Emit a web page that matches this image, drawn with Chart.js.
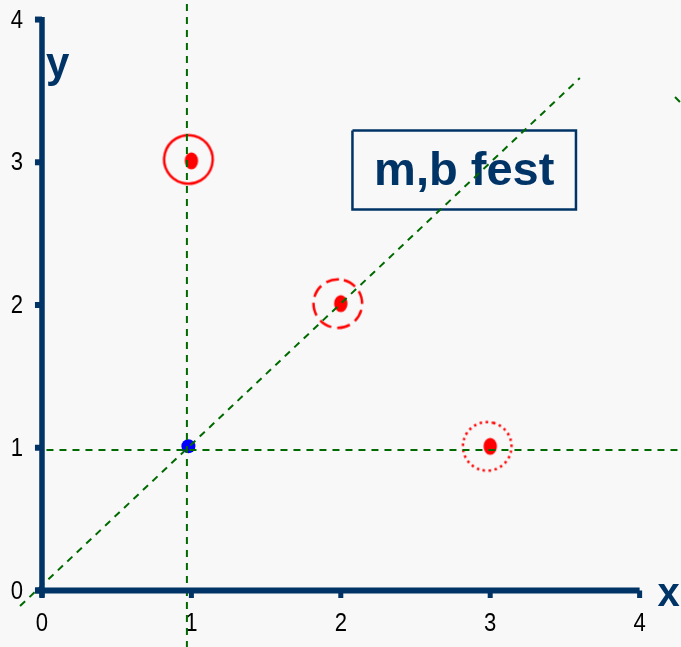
<!DOCTYPE html>
<html>
<head>
<meta charset="utf-8">
<script src="https://cdn.jsdelivr.net/npm/chart.js@4/dist/chart.umd.min.js"></script>
<style>
  html, body { margin: 0; padding: 0; background: #f8f8f8; }
  #wrap { width: 681px; height: 647px; position: relative; }
</style>
</head>
<body>
<div id="wrap"><canvas id="c"></canvas></div>
<script>
// ---- data ----
const xTicks = [0, 1, 2, 3, 4];
const yTicks = [0, 1, 2, 3, 4];
const tickLabels = ['0', '1', '2', '3', '4'];
const redPoints = [{x: 1.00, y: 3.01}, {x: 2.00, y: 2.01}, {x: 3.00, y: 1.01}];
const bluePoint = [{x: 0.98, y: 1.01}];
const ringSolid = [{x: 0.98, y: 3.02}];
const ringDashed = [{x: 1.98, y: 2.01}];
const ringDotted = [{x: 2.98, y: 1.01}];
const verticalLine = [{x: 0.97, y: 4.2}, {x: 0.97, y: -0.45}];
const horizontalLine = [{x: 0.03, y: 0.984}, {x: 4.35, y: 0.984}];
const diagonalLine = [{x: -0.147, y: -0.109}, {x: 3.60, y: 3.59}];
const stubLine = [{x: 4.237, y: 3.457}, {x: 4.30, y: 3.39}];
const yAxisLine = [{x: 0, y: 4.018}, {x: 0, y: -0.05}];
const xAxisLine = [{x: -0.045, y: 0}, {x: 4, y: 0}];
const boxCorners = [{x: 2.078, y: 3.222}, {x: 3.574, y: 2.669}];
const boxText = 'm,b fest';
const xTitle = 'x';
const yTitle = 'y';

// ---- styles ----
const NAVY = '#003366';
const GREEN = '#006a00';
const FONT = '"Liberation Sans", Arial, sans-serif';

function ringImage(dash) {
  const cv = document.createElement('canvas');
  cv.width = 60; cv.height = 60;
  const g = cv.getContext('2d');
  g.strokeStyle = '#ff0000';
  g.lineWidth = 2.5;
  g.setLineDash(dash);
  g.beginPath();
  g.arc(30, 30, 24.3, -Math.PI / 2 + 0.25, Math.PI * 1.5 + 0.25);
  g.stroke();
  return cv;
}
function ellipseImage(rx, ry, color) {
  const cv = document.createElement('canvas');
  cv.width = Math.ceil(rx * 2 + 2); cv.height = Math.ceil(ry * 2 + 2);
  const g = cv.getContext('2d');
  g.fillStyle = color;
  g.beginPath();
  g.ellipse(cv.width / 2, cv.height / 2, rx, ry, 0, 0, Math.PI * 2);
  g.fill();
  return cv;
}

const dashedLine = (data) => ({
  data, showLine: true, borderColor: GREEN, borderWidth: 2, borderDash: [7, 6],
  pointRadius: 0, fill: false, order: 1
});
const navyLine = (data, w) => ({
  data, showLine: true, borderColor: NAVY, borderWidth: w, borderCapStyle: 'butt',
  pointRadius: 0, fill: false, order: 0
});

const datasets = [];
// axes (on top)
datasets.push(navyLine(yAxisLine, 5.5));
datasets.push(navyLine(xAxisLine, 6));
xTicks.forEach(t => datasets.push(navyLine([{x: t, y: 0}, {x: t, y: -0.052}], 5)));
yTicks.forEach(t => datasets.push(navyLine([{x: 0, y: t}, {x: -0.047, y: t}], 6)));
// green dashed lines
datasets.push(dashedLine(verticalLine));
datasets.push(dashedLine(horizontalLine));
datasets.push(dashedLine(diagonalLine));
datasets.push(dashedLine(stubLine));
// label box
datasets.push({
  data: [
    {x: boxCorners[0].x, y: boxCorners[0].y}, {x: boxCorners[1].x, y: boxCorners[0].y},
    {x: boxCorners[1].x, y: boxCorners[1].y}, {x: boxCorners[0].x, y: boxCorners[1].y},
    {x: boxCorners[0].x, y: boxCorners[0].y}
  ],
  showLine: true, borderColor: NAVY, borderWidth: 2.5, pointRadius: 0, fill: false,
  borderJoinStyle: 'miter', order: 3
});
// points
const redDot = ellipseImage(6.7, 8.6, '#ff0000');
datasets.push({ data: redPoints, pointStyle: redDot, pointRadius: 8, order: 2 });
datasets.push({ data: bluePoint, pointStyle: 'circle', pointRadius: 7,
  backgroundColor: '#0000ff', borderColor: '#0000ff', borderWidth: 0, order: 2 });
datasets.push({ data: ringSolid, pointStyle: ringImage([]), pointRadius: 25, order: 2 });
datasets.push({ data: ringDashed, pointStyle: ringImage([13, 6.1]), pointRadius: 25, order: 2 });
datasets.push({ data: ringDotted, pointStyle: ringImage([2.4, 3.6]), pointRadius: 25, order: 2 });

const textPlugin = {
  id: 'texts',
  beforeDraw(chart) {
    const ctx = chart.ctx;
    ctx.save();
    ctx.fillStyle = '#f8f8f8';
    ctx.fillRect(0, 0, chart.width, chart.height);
    ctx.restore();
  },
  beforeDatasetsDraw(chart) {
    const ctx = chart.ctx, xs = chart.scales.x, ys = chart.scales.y;
    const x0 = xs.getPixelForValue(0), y0 = ys.getPixelForValue(0);
    ctx.save();
    // tick labels
    ctx.fillStyle = '#000000';
    ctx.font = '26px ' + FONT;
    ctx.textAlign = 'center';
    ctx.textBaseline = 'middle';
    xTicks.forEach((t, i) => {
      ctx.save();
      ctx.translate(xs.getPixelForValue(t), y0 + 33);
      ctx.scale(0.85, 1);
      ctx.fillText(tickLabels[i], 0, 0);
      ctx.restore();
    });
    yTicks.forEach((t, i) => {
      ctx.save();
      ctx.translate(x0 - 25, ys.getPixelForValue(t) + 1);
      ctx.scale(0.85, 1);
      ctx.fillText(tickLabels[i], 0, 0);
      ctx.restore();
    });
    // axis titles
    ctx.fillStyle = NAVY;
    ctx.font = 'bold 42px ' + FONT;
    ctx.textAlign = 'left';
    ctx.textBaseline = 'alphabetic';
    ctx.fillText(yTitle, x0 + 4, ys.getPixelForValue(3.6));
    ctx.font = 'bold 40px ' + FONT;
    ctx.fillText(xTitle, xs.getPixelForValue(4.12), y0 + 16);
    // box text
    ctx.font = 'bold 47px ' + FONT;
    ctx.textAlign = 'center';
    const cx = (xs.getPixelForValue(boxCorners[0].x) + xs.getPixelForValue(boxCorners[1].x)) / 2;
    ctx.fillText(boxText, cx, ys.getPixelForValue(2.841));
    ctx.restore();
  }
};

new Chart(document.getElementById('c'), {
  type: 'scatter',
  data: { datasets },
  options: {
    responsive: true,
    maintainAspectRatio: false,
    animation: false,
    events: [],
    layout: { padding: 0, autoPadding: false },
    plugins: { legend: { display: false }, tooltip: { enabled: false } },
    scales: {
      x: { type: 'linear', min: -0.281, max: 4.277, display: false },
      y: { type: 'linear', min: -0.396, max: 4.137, display: false }
    }
  },
  plugins: [textPlugin]
});
</script>
</body>
</html>
